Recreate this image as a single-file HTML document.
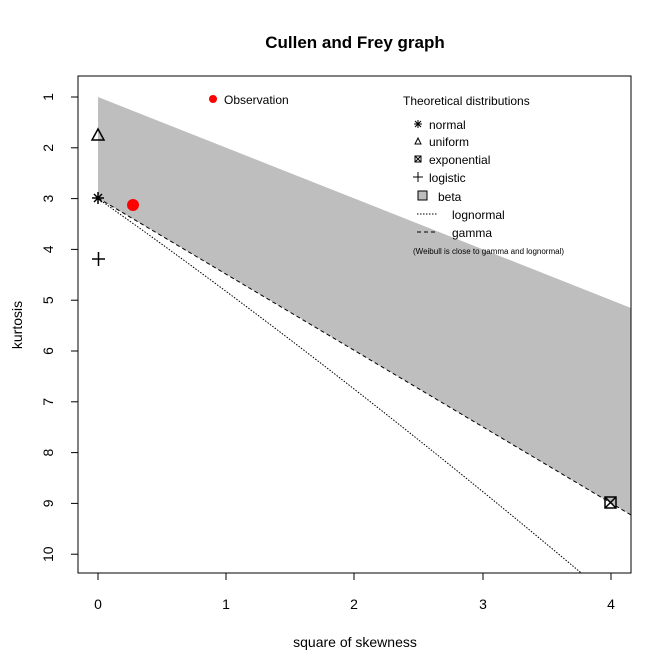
<!DOCTYPE html>
<html><head><meta charset="utf-8"><style>
body{margin:0;background:#fff}
svg{display:block;font-family:"Liberation Sans",Arial,sans-serif}
</style></head><body>
<svg id="s" width="672" height="671" viewBox="0 0 672 671">
<defs><clipPath id="c"><rect x="78" y="76" width="553" height="497"/></clipPath></defs>
<rect width="672" height="671" fill="#fff"/>
<g clip-path="url(#c)">
<polygon points="98,97 631,308 631,515 98,198" fill="#bebebe"/>
<line x1="98" y1="198" x2="631" y2="515" stroke="#000" stroke-dasharray="4,3" stroke-width="1"/>
<path id="ln" fill="none" stroke="#000" stroke-width="1" stroke-dasharray="1.5,1.5"/>
</g>
<rect x="78" y="76" width="553" height="497" fill="none" stroke="#000"/>
<text x="355" y="48" font-size="17" font-weight="bold" text-anchor="middle">Cullen and Frey graph</text>
<text x="355" y="647" font-size="14" text-anchor="middle">square of skewness</text>
<text x="0" y="0" font-size="14" text-anchor="middle" transform="translate(22,325) rotate(-90)">kurtosis</text>
<g stroke="#000">
<line x1="98" y1="573" x2="98" y2="580"/><line x1="226" y1="573" x2="226" y2="580"/><line x1="354" y1="573" x2="354" y2="580"/><line x1="483" y1="573" x2="483" y2="580"/><line x1="611" y1="573" x2="611" y2="580"/>
<line x1="71" y1="97" x2="78" y2="97"/><line x1="71" y1="147.8" x2="78" y2="147.8"/><line x1="71" y1="198.6" x2="78" y2="198.6"/><line x1="71" y1="249.4" x2="78" y2="249.4"/><line x1="71" y1="300.2" x2="78" y2="300.2"/><line x1="71" y1="351" x2="78" y2="351"/><line x1="71" y1="401.8" x2="78" y2="401.8"/><line x1="71" y1="452.6" x2="78" y2="452.6"/><line x1="71" y1="503.4" x2="78" y2="503.4"/><line x1="71" y1="554.2" x2="78" y2="554.2"/>
</g>
<g font-size="14" text-anchor="middle">
<text x="98" y="609">0</text><text x="226" y="609">1</text><text x="354" y="609">2</text><text x="483" y="609">3</text><text x="611" y="609">4</text>
<text transform="translate(53,97) rotate(-90)">1</text>
<text transform="translate(53,147.8) rotate(-90)">2</text>
<text transform="translate(53,198.6) rotate(-90)">3</text>
<text transform="translate(53,249.4) rotate(-90)">4</text>
<text transform="translate(53,300.2) rotate(-90)">5</text>
<text transform="translate(53,351) rotate(-90)">6</text>
<text transform="translate(53,401.8) rotate(-90)">7</text>
<text transform="translate(53,452.6) rotate(-90)">8</text>
<text transform="translate(53,503.4) rotate(-90)">9</text>
<text transform="translate(53,554.2) rotate(-90)">10</text>
</g>
<g stroke="#000" stroke-width="1.5" fill="none">
<path d="M92,198h12M98,192v12M94,194l8,8M102,194l-8,8"/>
<polygon points="98,129 92,140 104,140"/>
<rect x="605" y="497" width="11" height="11"/><path d="M605,497l11,11M616,497l-11,11"/>
<path d="M92,259h13M98.5,252v14"/>
</g>
<circle cx="133" cy="205" r="6" fill="#f00"/>
<circle cx="213" cy="99" r="4" fill="#f00"/>
<text x="224" y="104" font-size="12">Observation</text>
<g font-size="12">
<text x="403" y="105">Theoretical distributions</text>
<text x="429" y="129">normal</text>
<text x="429" y="146">uniform</text>
<text x="429" y="164">exponential</text>
<text x="429" y="182">logistic</text>
<text x="438" y="201">beta</text>
<text x="452" y="219">lognormal</text>
<text x="452" y="237">gamma</text>
</g>
<text x="413" y="254" font-size="8">(Weibull is close to gamma and lognormal)</text>
<g stroke="#000" fill="none" stroke-width="1">
<path d="M414,124h8M418,120v8M415,121l6,6M421,121l-6,6"/>
<polygon points="418,138 415,144 421,144"/>
<rect x="415" y="156" width="6" height="6"/><path d="M415,156l6,6M421,156l-6,6"/>
<path d="M413,177h10M418,172v10"/>
<rect x="418" y="191" width="9" height="9" fill="#bebebe"/>
<line x1="417" y1="214" x2="438" y2="214" stroke-dasharray="1.5,1.5"/>
<line x1="417" y1="232" x2="438" y2="232" stroke-dasharray="4,3"/>
</g>
<script>
var X=function(v){return 98+v*128.25},Y=function(v){return 97+(v-1)*50.8};
var d='M'+X(0)+','+Y(3);
for(var s=0.01;s<1.2;s+=0.005){var w=Math.exp(s*s);var sk=(w+2)*(w+2)*(w-1);var ku=w*w*w*w+2*w*w*w+3*w*w-3;d+=' L'+X(sk).toFixed(2)+','+Y(ku).toFixed(2);if(ku>11)break;}
document.getElementById('ln').setAttribute('d',d);
</script>
</svg>
</body></html>
